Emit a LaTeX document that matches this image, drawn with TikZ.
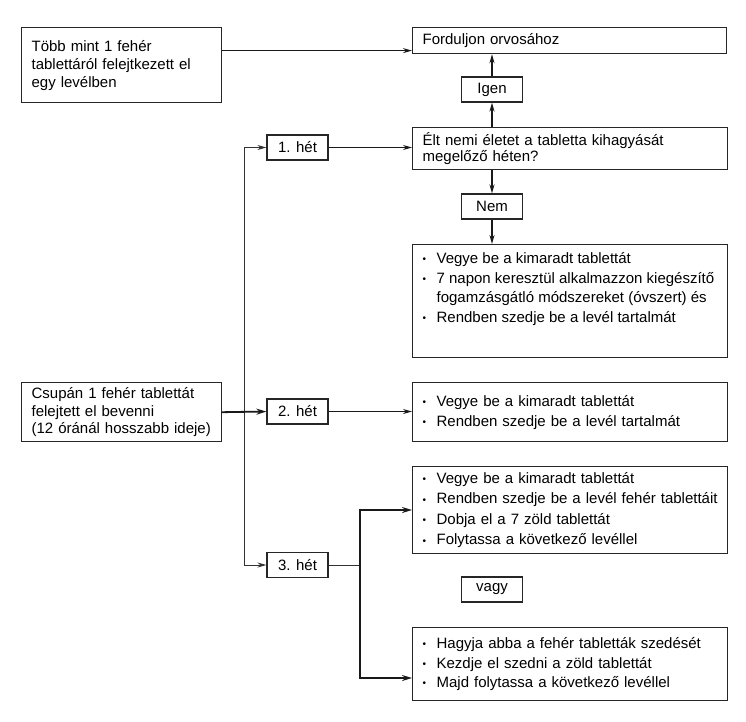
\documentclass[tikz,border=0pt]{standalone}
\usepackage{fontspec}
\setmainfont{Liberation Sans}
\usetikzlibrary{arrows.meta}
\hyphenpenalty=10000
\exhyphenpenalty=10000
\newcommand\bul{\makebox[14pt][l]{\raisebox{0.1ex}{\fontsize{10}{10}\selectfont\textbullet}}}
\newcommand\cont{\hspace*{14pt}}
\begin{document}
\begin{tikzpicture}[x=1pt,y=-1pt,
  box/.style={draw=black!85, line width=1.2pt, inner xsep=10pt, inner ysep=5pt,
    anchor=north west, align=left, font=\fontsize{15}{18}\selectfont},
  smallbox/.style={draw=black!85, line width=1.2pt, minimum width=61pt, minimum height=25pt,
    inner sep=0pt, font=\fontsize{15}{18}\selectfont},
  arr/.style={line width=1.2pt, draw=black!90, -{Stealth[length=9pt,width=5pt]}},
  thinarr/.style={line width=0.9pt, draw=black!80, {Stealth[length=9pt,width=5pt]}-{Stealth[length=9pt,width=5pt]}},
  thickarr/.style={line width=1.8pt, draw=black!90, -{Stealth[length=10pt,width=6pt]}},
  thickarr2/.style={line width=1.8pt, draw=black!90, line join=miter, {Stealth[length=10pt,width=6pt]}-{Stealth[length=10pt,width=6pt]}}
]
\useasboundingbox (0,0) rectangle (746,721);

% left boxes
\node[box, text width=180pt, minimum height=75pt] (A) at (21,27)
  {Több mint 1 fehér\\ tablettáról felejtkezett el\\ egy levélben};
\node[box, text width=180pt, minimum height=59pt, font=\fontsize{15}{17.5}\selectfont] (C) at (21,382)
  {Csupán 1 fehér tablettát\\ felejtett el bevenni\\ (12 óránál hosszabb ideje)};

% right boxes
\node[box, text width=294pt, minimum height=26pt] (F) at (412,27) {Forduljon orvosához};
\node[box, text width=295pt, minimum height=42pt, font=\fontsize{15}{16}\selectfont] (E) at (412,127)
  {Élt nemi életet a tabletta kihagyását\\ megelőző héten?};
\node[box, inner ysep=6pt, font=\fontsize{15}{18.5}\selectfont] (B1) at (412,244)
  {\parbox[c][101pt][t]{295pt}{\strut\bul Vegye be a kimaradt tablettát\\[1.5pt]
   \bul 7 napon keresztül alkalmazzon kiegészítő\\
   \cont fogamzásgátló módszereket (óvszert) és\\[1.5pt]
   \bul Rendben szedje be a levél tartalmát}};
\node[box, text width=295pt, minimum height=59pt, font=\fontsize{15}{18.5}\selectfont] (B2) at (412,382)
  {\bul Vegye be a kimaradt tablettát\\[1.5pt]
   \bul Rendben szedje be a levél tartalmát};
\node[box, text width=295pt, minimum height=87pt, font=\fontsize{15}{18.5}\selectfont] (B3) at (412,466)
  {\bul Vegye be a kimaradt tablettát\\[2pt]
   \mbox{\bul Rendben szedje be a levél fehér tablettáit}\\[2pt]
   \bul Dobja el a 7 zöld tablettát\\[2pt]
   \bul Folytassa a következő levéllel};
\node[box, text width=295pt, minimum height=73pt, font=\fontsize{15}{18.5}\selectfont] (B4) at (412,627)
  {\bul Hagyja abba a fehér tabletták szedését\\[1pt]
   \bul Kezdje el szedni a zöld tablettát\\[1pt]
   \bul Majd folytassa a következő levéllel};

% small boxes
\node[smallbox] (h1) at (297.5,147.5) {1. hét};
\node[smallbox] (h2) at (297.5,411.5) {2. hét};
\node[smallbox] (h3) at (297.5,565) {3. hét};
\node[smallbox] (igen) at (492,89.5) {Igen};
\node[smallbox] (nem) at (492,206.5) {Nem};
\node[smallbox] (vagy) at (492,589.5) {vagy};

% connectors
\coordinate (a1) at ([yshift=14.5pt]A.east);
\draw[arr] (a1) -- (a1 -| F.west);
\draw[arr, line width=1.6pt] (E.north -| igen) -- (igen.south);
\draw[arr, line width=1.6pt] (igen.north) -- (igen |- F.south);
\draw[arr, line width=1.6pt] (E.south -| nem) -- (nem.north);
\draw[arr, line width=1.6pt] (nem.south) -- (nem |- B1.north);

\coordinate (jt) at (244,147.5);
\coordinate (jb) at (244,565);
\draw[thinarr] (h1.west) -- (jt) -- (jb) -- (h3.west);
\draw[thickarr] (C.east) -- (h2.west);
\draw[arr, line width=1pt] (h1.east) -- (h1.east -| E.west);
\draw[arr, line width=1pt] (h2.east) -- (h2.east -| B2.west);

\coordinate (j3) at (360,565);
\coordinate (j3t) at (360,510);
\coordinate (j3b) at (360,678);
\draw[line width=0.8pt, draw=black!80] (h3.east) -- (j3);
\draw[thickarr2] (j3t -| B3.west) -- (j3t) -- (j3b) -- (j3b -| B4.west);
\end{tikzpicture}
\end{document}
